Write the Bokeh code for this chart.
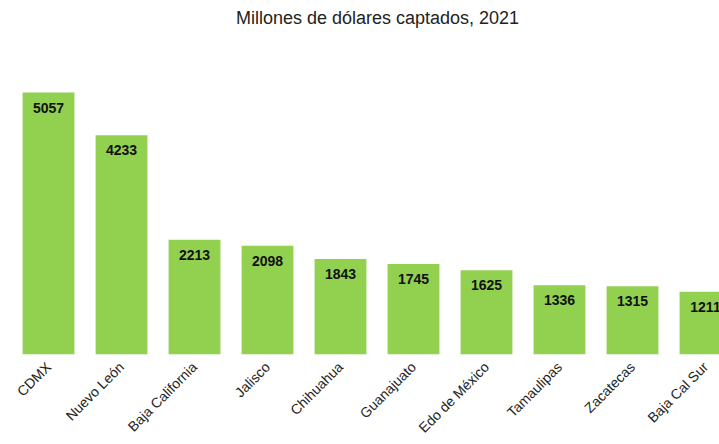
import math
from bokeh.plotting import figure
from bokeh.models import ColumnDataSource, Range1d, FixedTicker, Label
from bokeh.core.properties import value
from bokeh.embed import file_html
from bokeh.resources import INLINE

states = ["CDMX", "Nuevo León", "Baja California", "Jalisco", "Chihuahua",
          "Guanajuato", "Edo de México", "Tamaulipas", "Zacatecas", "Baja Cal Sur"]
values = [5057, 4233, 2213, 2098, 1843, 1745, 1625, 1336, 1315, 1211]
title_text = "Millones de dólares captados, 2021"

xs = list(range(len(states)))
src = ColumnDataSource(dict(x=xs, top=values, label=[str(v) for v in values]))

p = figure(width=719, height=444, output_backend="svg", toolbar_location=None,
           x_range=Range1d(-0.658, 9.192), y_range=Range1d(0, 6833),
           min_border_left=0, min_border_right=0, min_border_top=0,
           min_border_bottom=90, outline_line_color=None, title=None)

p.add_layout(Label(x=377, y=337, x_units="screen", y_units="screen", text=title_text,
                   text_align="center", text_baseline="middle",
                   text_font="Liberation Sans", text_font_size="18px",
                   text_color="#222222"))

p.vbar(x="x", top="top", width=0.71, source=src, fill_color="#92D050", line_color=None)
p.text(x="x", y="top", text="label", source=src, text_align="center", text_baseline="top",
       y_offset=10, text_font=value("Liberation Sans"), text_font_size="14px",
       text_font_style="bold", text_color="#111111")

p.xgrid.visible = False
p.ygrid.visible = False
p.yaxis.visible = False
ax = p.xaxis[0]
ax.ticker = FixedTicker(ticks=xs)
ax.major_label_overrides = {i: s for i, s in enumerate(states)}
ax.major_label_orientation = math.pi / 4
ax.major_label_text_font = "Liberation Sans"
ax.major_label_text_font_size = "14px"
ax.major_label_text_color = "#222222"
ax.axis_line_color = None
ax.major_tick_line_color = None
ax.minor_tick_line_color = None
ax.major_tick_out = 0
ax.major_tick_in = 0
ax.major_label_standoff = 10

open("out.html", "w").write(file_html(p, INLINE))
